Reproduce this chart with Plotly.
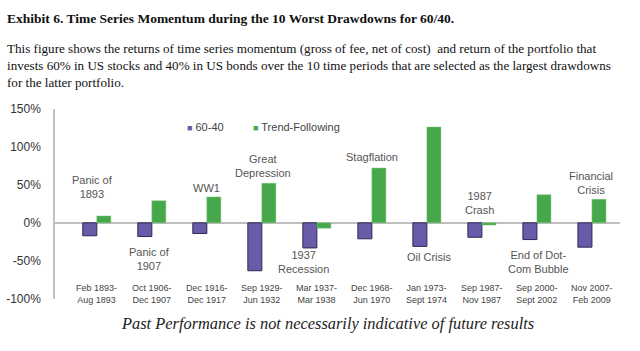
import plotly.graph_objects as go

W, H = 640, 351

periods = ["Feb 1893-<br>Aug 1893", "Oct 1906-<br>Dec 1907", "Dec 1916-<br>Dec 1917",
           "Sep 1929-<br>Jun 1932", "Mar 1937-<br>Mar 1938", "Dec 1968-<br>Jun 1970",
           "Jan 1973-<br>Sept 1974", "Sep 1987-<br>Nov 1987", "Sep 2000-<br>Sept 2002",
           "Nov 2007-<br>Feb 2009"]
sixty_forty = [-17, -18, -14, -63, -33, -21, -31, -19, -22, -32]
trend_following = [9, 29, 34, 52, -7, 72, 126, -3, 37, 31]
events = ["Panic of<br>1893", "Panic of<br>1907", "WW1", "Great<br>Depression",
          "1937<br>Recession", "Stagflation", "Oil Crisis", "1987<br>Crash",
          "End of Dot-<br>Com Bubble", "Financial<br>Crisis"]
event_y = [46.7, -48, 45.5, 75, -52, 86, -45.5, 26.5, -52, 52]
event_dx = [-0.07, -0.04, 0, 0.02, -0.25, 0, 0.03, -0.05, 0.03, -0.02]
yticks = [-100, -50, 0, 50, 100, 150]
series_names = ["60-40", "Trend-Following"]

PURPLE = "#6A5BA8"
GREEN = "#46A84A"
SANS = "Liberation Sans, Arial, sans-serif"
SERIF = "Liberation Serif, Times New Roman, serif"

def py(p):
    return 1 - p / H

fig = go.Figure()
fig.add_trace(go.Bar(x=periods, y=sixty_forty, name=series_names[0], marker_color=PURPLE,
                     marker_line=dict(color="#2E2A55", width=1), showlegend=False))
fig.add_trace(go.Bar(x=periods, y=trend_following, name=series_names[1], marker_color=GREEN,
                     marker_line=dict(color="#7CC47F", width=0.5), showlegend=False))

ann = []
for i, (t, yv, dx) in enumerate(zip(events, event_y, event_dx)):
    ann.append(dict(x=i + dx, y=yv, xref="x", yref="y", text=t, showarrow=False,
                    font=dict(family=SANS, size=11, color="#555555"),
                    xanchor="center", yanchor="middle"))
for i, p in enumerate(periods):
    ann.append(dict(x=i, y=py(299), xref="x", yref="paper", text=p, showarrow=False,
                    font=dict(family=SANS, size=9, color="#444444"),
                    xanchor="center", yanchor="middle"))

# legend (manual, tight spacing)
for xpx, name, col in [(185, series_names[0], PURPLE), (251, series_names[1], GREEN)]:
    ann.append(dict(x=xpx / W, y=py(125), xref="paper", yref="paper", xanchor="left",
                    yanchor="middle", showarrow=False,
                    text=f"<span style='color:{col}; font-size:9px'>■</span> {name}",
                    font=dict(family=SANS, size=11, color="#444444")))

ann.append(dict(x=5 / W, y=py(12), xref="paper", yref="paper", xanchor="left", yanchor="middle",
                text="<b>Exhibit 6. Time Series Momentum during the 10 Worst Drawdowns for 60/40.</b>",
                showarrow=False, font=dict(family=SERIF, size=13.5, color="#111111")))
ann.append(dict(x=5 / W, y=py(61), xref="paper", yref="paper", xanchor="left", yanchor="middle",
                align="left",
                text="This figure shows the returns of time series momentum (gross of fee, net of cost)  and return of the portfolio that<br>"
                     "invests 60% in US stocks and 40% in US bonds over the 10 time periods that are selected as the largest drawdowns<br>"
                     "for the latter portfolio.",
                showarrow=False, font=dict(family=SERIF, size=13.1, color="#111111")))
ann.append(dict(x=327 / W, y=py(330), xref="paper", yref="paper", xanchor="center", yanchor="middle",
                text="<i>Past Performance is not necessarily indicative of future results</i>",
                showarrow=False, font=dict(family=SERIF, size=16.4, color="#222222")))

fig.update_layout(
    width=W, height=H, margin=dict(l=0, r=0, t=0, b=0),
    paper_bgcolor="white", plot_bgcolor="white",
    barmode="group", bargap=0.49, bargroupgap=0,
    showlegend=False,
    xaxis=dict(domain=[55 / W, 620 / W], range=[-0.76, 9.51], showticklabels=False,
               showgrid=False, showline=False, ticks="", fixedrange=True),
    yaxis=dict(domain=[py(304), py(106)], range=[-100, 150], tickvals=yticks,
               ticktext=[f"{v}%" for v in yticks], showgrid=False,
               showline=True, linecolor="#BFBFBF", linewidth=1.5,
               zeroline=True, zerolinecolor="#BFBFBF", zerolinewidth=1.5,
               ticks="", ticklabelstandoff=10,
               tickfont=dict(family=SANS, size=12, color="#333333")),
    annotations=ann,
)
fig.write_html("out.html")
